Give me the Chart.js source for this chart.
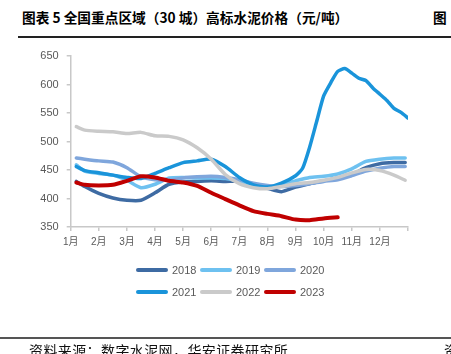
<!DOCTYPE html>
<html><head><meta charset="utf-8">
<script src="https://cdn.jsdelivr.net/npm/chart.js@4"></script>
<style>
html,body{margin:0;padding:0;background:#fff;}
#wrap{position:relative;width:451px;height:354px;overflow:hidden;font-family:"Noto Sans CJK SC","Liberation Sans",sans-serif;}
#c{position:absolute;left:0;top:0;}
.t{position:absolute;white-space:nowrap;}
#title{left:22px;top:10px;font-size:13.7px;line-height:14px;font-weight:bold;color:#000;}
#title2{left:433px;top:10px;font-size:13.7px;line-height:14px;font-weight:bold;color:#000;}
#rule1{position:absolute;left:18px;width:433px;top:36px;height:1.5px;background:#222;}
#rule2{position:absolute;left:0;width:451px;top:337px;height:1.5px;background:#555;}
#src{left:29px;top:343px;font-size:14px;line-height:14px;letter-spacing:0.4px;color:#111;}
#src2{left:444px;top:343px;font-size:14px;line-height:14px;color:#111;}
.sw{position:absolute;width:32px;height:4px;border-radius:2px;}
.lt{position:absolute;font-family:"Liberation Sans",Arial,sans-serif;font-size:11px;line-height:14px;color:#595959;}
</style></head>
<body><div id="wrap">
<div class="t" id="title">图表 5 全国重点区域（30 城）高标水泥价格（元/吨）</div>
<div class="t" id="title2">图</div>
<div id="rule1"></div>
<canvas id="c" width="451" height="354"></canvas>
<div id="legend"></div>
<div id="rule2"></div>
<div class="t" id="src">资料来源：数字水泥网，华安证券研究所</div>
<div class="t" id="src2">资</div>
</div>
<script>
const monthLabels = ['1月','2月','3月','4月','5月','6月','7月','8月','9月','10月','11月','12月'];
const years = ['2018','2019','2020','2021','2022','2023'];
const colors = ['#3e6ba3','#6ec1f0','#7fa6dc','#1a94da','#cacaca','#c00000'];
const months = [0.2,0.5,1,1.5,2,2.5,3,3.5,4,4.5,5,5.5,6,6.5,7,7.5,8,8.5,9,9.5,10,10.5,11,11.5,11.9];
const months2021 = [0.2,0.5,1,1.5,2,2.5,3,3.5,4,4.5,5,5.5,6,6.5,7,7.5,8,8.25,8.5,8.75,9,9.25,9.5,9.75,10,10.25,10.5,10.75,11,11.25,11.5,11.75,12];
const s2018 = [430,421,409,401,397,397,410,425,429,430,431,430,430,425,418,412,420,426,431,436,442,454,461,463,463];
const s2019 = [459,448,444,441,432,419,425,436,437,436,436,435,430,422,419,424,431,437,439,443,452,465,469,471,471];
const s2020 = [471,469,466,464,454,438,433,432,436,438,439,437,433,427,423,421,423,426,430,433,440,448,453,456,456];
const s2021 = [456,449,445,441,437,435,444,454,463,466,469,456,437,424,420,427,440,453,490,535,580,603,623,628,620,611,607,594,583,572,558,551,541];
const s2022 = [526,520,518,517,514,516,510,509,503,489,469,442,426,419,417,421,426,428,432,437,445,451,449,441,432];
const s2023 = [428,424,423,424,431,439,437,431,428,422,410,399,388,378,373,369,363,362,365,367];

const seriesValues = [s2018,s2019,s2020,s2021,s2022,s2023];
const seriesX = [months,months,months,months2021,months,months];

const datasets = years.map((y,i)=>({
  label:y,
  data: seriesValues[i].map((v,k)=>({x:seriesX[i][k], y:v})),
  borderColor: colors[i],
  backgroundColor: colors[i],
  borderWidth: i===5 ? 4 : 3.5,
  pointRadius:0,
  tension:0.2,
  fill:false,
  borderCapStyle:'round',
  borderJoinStyle:'round',
  order: 6-i
}));

const axisColor = '#c8c8c8';
new Chart(document.getElementById('c'), {
  type:'line',
  data:{datasets},
  options:{
    responsive:false, animation:false, devicePixelRatio:1,
    layout:{padding:{left:0, top:56, right:43, bottom:97}},
    plugins:{legend:{display:false}, tooltip:{enabled:false}},
    scales:{
      x:{type:'linear', min:0, max:12,
        afterFit(s){ s.height = 30; },
        ticks:{stepSize:1, autoSkip:false, maxRotation:0, padding:5,
          callback:(v)=> (v>=0 && v<12) ? monthLabels[v] : '',
          font:{size:10, family:'"Liberation Sans","Noto Sans CJK SC",sans-serif'}, color:'#595959'},
        grid:{drawOnChartArea:false, drawTicks:true, tickLength:4, color:axisColor, lineWidth:1.5},
        border:{color:axisColor, width:1.5}},
      y:{min:350, max:650,
        afterFit(s){ s.width = 70.7; },
        ticks:{stepSize:50, padding:8, font:{size:11, family:'"Liberation Sans",Arial,sans-serif'}, color:'#595959'},
        grid:{drawOnChartArea:false, drawTicks:true, tickLength:4, color:axisColor, lineWidth:1.5},
        border:{color:axisColor, width:1.5}}
    }
  }
});

const leg = document.getElementById('legend');
years.forEach((y,i)=>{
  const col = i%3, row = Math.floor(i/3);
  const left = 136 + col*64, cy = 270 + row*22;
  const sw = document.createElement('div');
  sw.className='sw'; sw.style.left=left+'px'; sw.style.top=(cy-2)+'px'; sw.style.background=colors[i];
  leg.appendChild(sw);
  const tx = document.createElement('div');
  tx.className='lt'; tx.style.left=(left+36)+'px'; tx.style.top=(cy-7)+'px'; tx.textContent=y;
  leg.appendChild(tx);
});
</script>
</body></html>
